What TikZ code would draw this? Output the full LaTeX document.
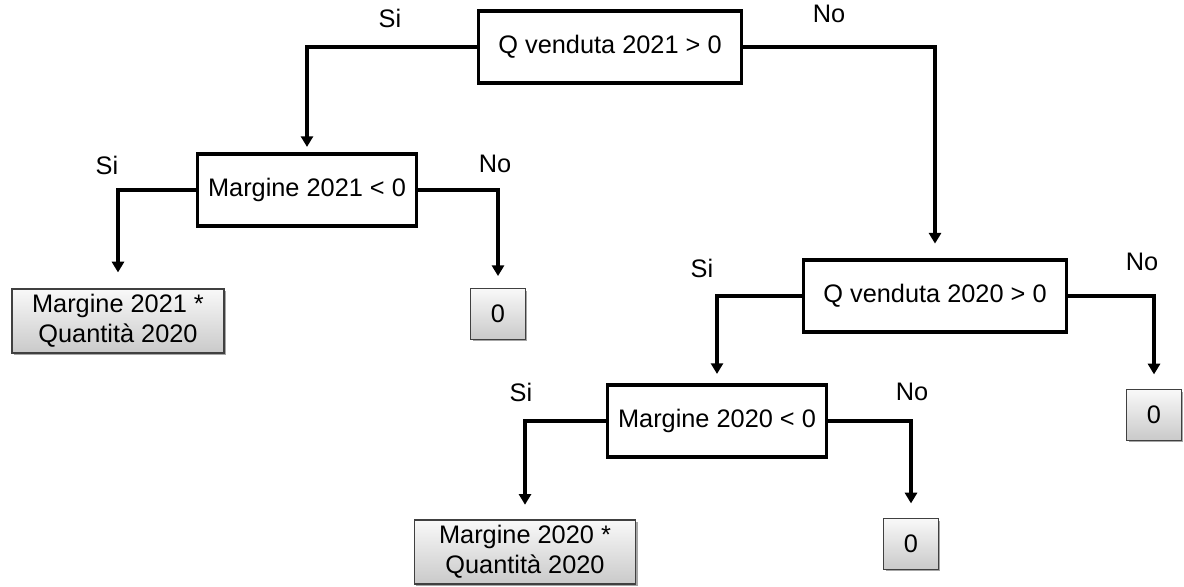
\documentclass[tikz,border=0pt]{standalone}
\usepackage{fontspec}
\setmainfont{Liberation Sans}
\usetikzlibrary{arrows.meta,shadows}
\begin{document}
\begin{tikzpicture}[x=0.75pt,y=-0.75pt,
  txt/.style={font=\fontsize{19}{22.5}\selectfont},
  dec/.style={txt,draw=black,line width=2.6pt,fill=white,inner sep=0pt,minimum width=#1,minimum height=54pt},
  res/.style={txt,draw=black!75,line width=0.9pt,top color=gray!5,bottom color=gray!42,
     inner sep=0pt,align=center,minimum width=#1,minimum height=48pt,
     drop shadow={shadow xshift=1.6pt,shadow yshift=-1.6pt,opacity=0.35,fill=black}},
  zero/.style={res=41pt,minimum height=38pt},
  conn/.style={draw=black,line width=2.6pt,-{Triangle[width=9pt,length=8pt]}},
  lbl/.style={txt,inner sep=0pt}
]
\useasboundingbox (0,0) rectangle (1184,586);
\fill[white] (0,0) rectangle (1184,586);

\node[dec=197.5pt] (q1) at (610,47) {Q venduta 2021 > 0};
\node[dec=164.5pt] (m1) at (307,190) {Margine 2021 < 0};
\node[res=159pt] (r1) at (118,321) {Margine 2021 *\\Quantità 2020};
\node[zero] (z1) at (498,314) {0};
\node[dec=197.5pt] (q2) at (935,296) {Q venduta 2020 > 0};
\node[dec=164.5pt] (m2) at (717,421) {Margine 2020 < 0};
\node[res=166pt] (r2) at (525,552) {Margine 2020 *\\Quantità 2020};
\node[zero] (z2) at (1154,415) {0};
\node[zero] (z3) at (911,544) {0};

\node[lbl] (l1) at (390,18) {Si};
\node[lbl] (l2) at (829,14) {No};
\node[lbl] (l3) at (107,165) {Si};
\node[lbl] (l4) at (495,164) {No};
\node[lbl] (l5) at (702,268) {Si};
\node[lbl] (l6) at (1142,262) {No};
\node[lbl] (l7) at (521,392) {Si};
\node[lbl] (l8) at (912,392) {No};

\draw[conn,shorten >=4pt] (q1.west) -| (m1.north);
\draw[conn,shorten >=11pt] (q1.east) -| (q2.north);
\draw[conn,shorten >=12pt] (m1.west) -| (r1.north);
\draw[conn,shorten >=9pt] (m1.east) -| (z1.north);
\draw[conn,shorten >=7pt] (q2.west) -| (m2.north);
\draw[conn,shorten >=11pt] (q2.east) -| (z2.north);
\draw[conn,shorten >=11pt] (m2.west) -| (r2.north);
\draw[conn,shorten >=11pt] (m2.east) -| (z3.north);
\end{tikzpicture}
\end{document}
